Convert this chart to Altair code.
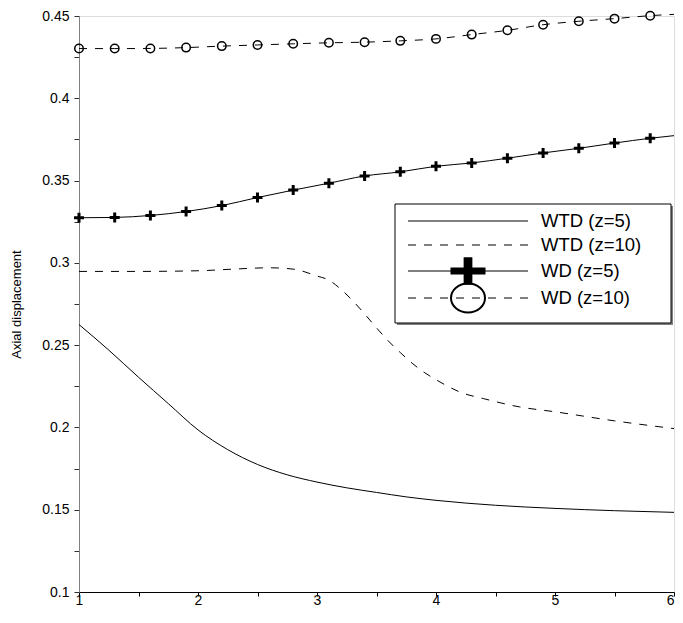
import altair as alt
import pandas as pd

# ---------------- data ----------------
series_names = ["WTD (z=5)", "WTD (z=10)", "WD (z=5)", "WD (z=10)"]

wtd5_x = [1.0, 1.25, 1.5, 1.75, 2.0, 2.25, 2.5, 2.75, 3.0, 3.25, 3.5, 3.75, 4.0, 4.5, 5.0, 5.5, 6.0]
wtd5_y = [0.2625, 0.247, 0.2305, 0.2145, 0.1985, 0.1865, 0.1775, 0.1712, 0.1668, 0.1633,
          0.1605, 0.1578, 0.1557, 0.1527, 0.1508, 0.1494, 0.1484]

wtd10_x = [1.0, 1.5, 2.0, 2.3, 2.6, 2.8, 3.0, 3.1, 3.2, 3.3, 3.4, 3.5, 3.6, 3.7, 3.8, 3.9,
           4.0, 4.1, 4.2, 4.4, 4.7, 5.0, 5.5, 6.0]
wtd10_y = [0.2948, 0.2948, 0.2952, 0.2962, 0.2970, 0.2962, 0.2920, 0.2895, 0.2840, 0.2770,
           0.2690, 0.2605, 0.2525, 0.2455, 0.2390, 0.2335, 0.2290, 0.2250, 0.2215, 0.2175,
           0.2125, 0.2095, 0.2040, 0.1993]

wd_x = [1.0, 1.3, 1.6, 1.9, 2.2, 2.5, 2.8, 3.1, 3.4, 3.7, 4.0, 4.3, 4.6, 4.9, 5.2, 5.5, 5.8, 6.0]
wd5_y = [0.3274, 0.3276, 0.3288, 0.3312, 0.3348, 0.3397, 0.3442, 0.3484, 0.3528, 0.3553,
         0.3587, 0.3607, 0.3636, 0.3668, 0.3696, 0.3728, 0.3757, 0.3773]
wd10_y = [0.4302, 0.4302, 0.4303, 0.4308, 0.4317, 0.4324, 0.4331, 0.4337, 0.4341, 0.4349,
          0.4361, 0.4387, 0.4413, 0.4447, 0.4468, 0.4484, 0.4502, 0.4510]
wd_marker_last_x = 5.8

x_ticks = [1, 1.5, 2, 2.5, 3, 3.5, 4, 4.5, 5, 5.5, 6]
y_ticks = [round(0.1 + 0.025 * i, 3) for i in range(15)]

FONT = "Liberation Sans"
W, H = 595, 576

df_wtd5 = pd.DataFrame({"x": wtd5_x, "y": wtd5_y})
df_wtd10 = pd.DataFrame({"x": wtd10_x, "y": wtd10_y})
df_wd5 = pd.DataFrame({"x": wd_x, "y": wd5_y})
df_wd10 = pd.DataFrame({"x": wd_x, "y": wd10_y})

x_enc = alt.X(
    "x:Q",
    scale=alt.Scale(domain=[1, 6], nice=False, zero=False),
    axis=alt.Axis(
        values=x_ticks,
        labelExpr="datum.value % 1 == 0 ? format(datum.value, 'd') : ''",
        labelAlign={"condition": {"test": "datum.value >= 6", "value": "right"}, "value": "center"},
        grid=False, domainColor="#000000", tickColor="#000000", tickSize=4,
        labelBaseline="alphabetic", labelPadding=8.5,
        labelFont=FONT, labelFontSize=14, labelColor="#000000",
        title=None,
    ),
)
y_enc = alt.Y(
    "y:Q",
    scale=alt.Scale(domain=[0.1, 0.45], nice=False, zero=False),
    axis=alt.Axis(
        values=y_ticks,
        labelExpr="abs(datum.value*20 - round(datum.value*20)) < 0.000001 ? format(datum.value, '.2~f') : ''",
        grid=False, domainColor="#808080", tickColor="#303030", tickSize=5,
        labelPadding=5, labelFont=FONT, labelFontSize=14, labelColor="#000000",
        title="Axial displacement", titleFont=FONT, titleFontSize=13,
        titleFontWeight="normal", titleColor="#000000", titleX=-63, titleY=H / 2,
        titleAngle=270, titleAlign="center", titleBaseline="middle",
    ),
)

PLUS_DATA = "M-1,-0.3 L-0.3,-0.3 L-0.3,-1 L0.3,-1 L0.3,-0.3 L1,-0.3 L1,0.3 L0.3,0.3 L0.3,1 L-0.3,1 L-0.3,0.3 L-1,0.3 Z"
PLUS_LEG = "M-1,-0.2 L-0.25,-0.2 L-0.25,-0.78 L0.25,-0.78 L0.25,-0.2 L1,-0.2 L1,0.2 L0.25,0.2 L0.25,0.78 L-0.25,0.78 L-0.25,0.2 L-1,0.2 Z"
ELLIPSE_LEG = "M1,0 A1,0.85 0 1,1 -1,0 A1,0.85 0 1,1 1,0 Z"
DASH = [8, 8]

l_wtd5 = alt.Chart(df_wtd5).mark_line(color="black", strokeWidth=1, interpolate="monotone").encode(x=x_enc, y=y_enc)
l_wtd10 = alt.Chart(df_wtd10).mark_line(color="black", strokeWidth=1, strokeDash=DASH, interpolate="monotone").encode(x=x_enc, y=y_enc)
l_wd5 = alt.Chart(df_wd5).mark_line(color="black", strokeWidth=1, interpolate="monotone").encode(x=x_enc, y=y_enc)
l_wd10 = alt.Chart(df_wd10).mark_line(color="black", strokeWidth=1, strokeDash=DASH, interpolate="monotone").encode(x=x_enc, y=y_enc)

p_wd5 = alt.Chart(df_wd5).transform_filter(f"datum.x <= {wd_marker_last_x + 0.01}").mark_point(
    shape=PLUS_DATA, filled=True, color="black", size=100, opacity=1
).encode(x=x_enc, y=y_enc)
p_wd10 = alt.Chart(df_wd10).transform_filter(f"datum.x <= {wd_marker_last_x + 0.01}").mark_point(
    shape="circle", filled=False, color="black", strokeWidth=1.5, size=72, opacity=1
).encode(x=x_enc, y=y_enc)

# ---------------- legend (manual, pixel placed) ----------------
one = pd.DataFrame({"a": [0]})
LX0, LX1, LY0, LY1 = 316, 592, 188, 307
shadow = alt.Chart(one).mark_rect(color="#808080").encode(
    x=alt.value(LX0 + 2), x2=alt.value(LX1 + 2), y=alt.value(LY0 + 2), y2=alt.value(LY1 + 2))
box = alt.Chart(one).mark_rect(fill="white", stroke="black", strokeWidth=1).encode(
    x=alt.value(LX0), x2=alt.value(LX1), y=alt.value(LY0), y2=alt.value(LY1))

row_y = [205, 229, 255, 282]
row_dash = [None, DASH, None, DASH]
legend_layers = [shadow, box]
for name, ry, dash in zip(series_names, row_y, row_dash):
    rule_kw = dict(color="black", strokeWidth=1)
    if dash:
        rule_kw["strokeDash"] = dash
    legend_layers.append(alt.Chart(one).mark_rule(**rule_kw).encode(
        x=alt.value(329), x2=alt.value(449), y=alt.value(ry)))
    legend_layers.append(alt.Chart(one).mark_text(
        align="left", baseline="middle", font=FONT, fontSize=18.5, color="black", text=name
    ).encode(x=alt.value(462), y=alt.value(ry)))

legend_layers.append(alt.Chart(one).mark_point(
    shape=PLUS_LEG, filled=True, color="black", size=1225, opacity=1
).encode(x=alt.value(389), y=alt.value(row_y[2])))
legend_layers.append(alt.Chart(one).mark_point(
    shape=ELLIPSE_LEG, filled=False, color="black", strokeWidth=2, size=1156, opacity=1
).encode(x=alt.value(389), y=alt.value(row_y[3])))

chart = alt.layer(
    l_wtd5, l_wtd10, l_wd5, l_wd10, p_wd5, p_wd10, *legend_layers
).properties(
    width=W, height=H,
    autosize=alt.AutoSizeParams(type="none"),
    padding={"left": 71, "top": 8, "right": 1, "bottom": 17},
).configure_view(stroke=None).configure(background="white")

chart.save("out.html", embed_options={"renderer": "svg", "actions": False})
